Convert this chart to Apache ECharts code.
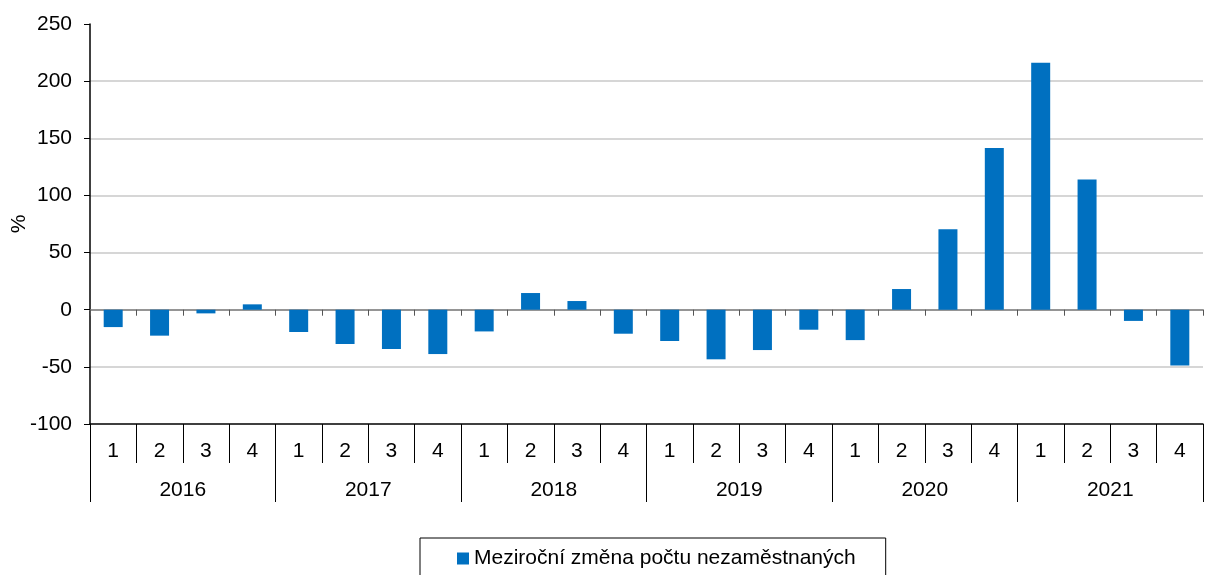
<!DOCTYPE html>
<html>
<head>
<meta charset="utf-8">
<script src="https://cdn.jsdelivr.net/npm/echarts@6/dist/echarts.min.js"></script>
<style>
  html, body { margin: 0; padding: 0; background: #fff; }
  #chart { width: 1205px; height: 575px; }
</style>
</head>
<body>
<div id="chart"></div>
<script>
// data
var years = ["2016", "2017", "2018", "2019", "2020", "2021"];
var quarters = ["1", "2", "3", "4"];
var yoyChange = [
  -15.2, -22.7, -3.2, 4.7,
  -19.5, -30.0, -34.4, -38.8,
  -19.0, 14.6, 7.6, -21.0,
  -27.4, -43.4, -35.3, -17.5,
  -26.6, 18.1, 70.3, 141.6,
  216.0, 114.0, -9.8, -48.8
];
var seriesName = "Meziroční změna počtu nezaměstnaných";

var categories = [];
years.forEach(function(y) {
  quarters.forEach(function(q) {
    categories.push(y + "|" + q);
  });
});

var font = "'Liberation Sans', Arial, sans-serif";
var fs = 21;

var myChart = echarts.init(document.getElementById("chart"));
myChart.setOption({
  animation: false,
  textStyle: { fontFamily: font },
  grid: {
    left: 90,
    right: 2,
    top: 24,
    bottom: 151,
    outerBoundsMode: "none"
  },
  legend: {
    data: [seriesName],
    left: 420,
    top: 538,
    itemWidth: 12,
    itemHeight: 12,
    icon: "rect",
    padding: [10, 30, 20, 37],
    borderColor: "#000",
    borderWidth: 1,
    textStyle: { color: "#000", fontSize: fs, fontFamily: font }
  },
  xAxis: [
    {
      // quarter labels along the bottom
      type: "category",
      data: categories,
      position: "bottom",
      axisLine: { show: true, onZero: false, lineStyle: { color: "#000", width: 1.5 } },
      axisTick: { show: true, interval: 0, length: 39, lineStyle: { color: "#000", width: 1 } },
      axisLabel: {
        interval: 0,
        margin: 17,
        color: "#000",
        fontSize: fs,
        fontFamily: font,
        formatter: function(v) { return v.split("|")[1]; }
      },
      splitLine: { show: false }
    },
    {
      // year labels below the quarters
      type: "category",
      data: years,
      position: "bottom",
      axisLine: { show: false, onZero: false },
      axisTick: { show: true, interval: 0, length: 78, lineStyle: { color: "#000", width: 1 } },
      axisLabel: {
        interval: 0,
        margin: 56,
        color: "#000",
        fontSize: fs,
        fontFamily: font
      },
      splitLine: { show: false }
    },
    {
      // zero line with short ticks
      type: "category",
      data: categories,
      position: "bottom",
      axisLine: { show: true, onZero: true, lineStyle: { color: "#808080", width: 1.5 } },
      axisTick: { show: true, interval: 0, length: 6, lineStyle: { color: "#555", width: 1 } },
      axisLabel: { show: false },
      splitLine: { show: false }
    }
  ],
  yAxis: {
    type: "value",
    min: -100,
    max: 250,
    interval: 50,
    name: "%",
    nameLocation: "middle",
    nameGap: 60,
    nameMoveOverlap: false,
    nameTextStyle: { color: "#000", fontSize: fs, fontFamily: font },
    axisLine: { show: true, lineStyle: { color: "#000", width: 1.5 } },
    axisTick: { show: true, length: 6, lineStyle: { color: "#000" } },
    axisLabel: { color: "#000", fontSize: fs, margin: 18, fontFamily: font },
    splitLine: {
      show: true,
      showMinLine: false,
      showMaxLine: false,
      lineStyle: { color: "#c8c8c8", width: 1.5 }
    }
  },
  series: [
    {
      name: seriesName,
      type: "bar",
      xAxisIndex: 0,
      data: yoyChange,
      barWidth: 19,
      itemStyle: { color: "#0070C0" }
    }
  ]
});
</script>
</body>
</html>
